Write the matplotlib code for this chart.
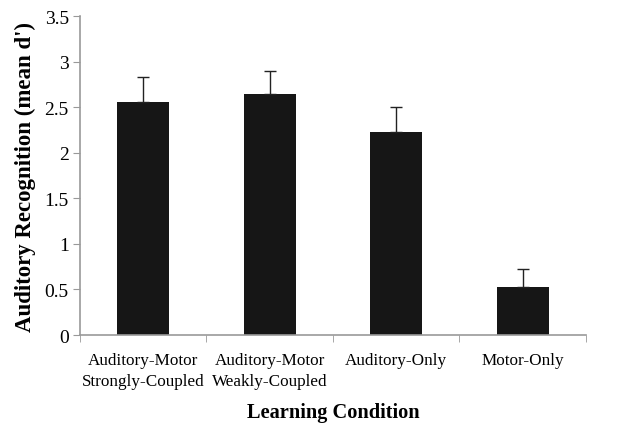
from matplotlib import pyplot as plt
import numpy as np

plt.rcParams['font.family'] = ['Liberation Serif', 'DejaVu Serif']

conditions = ['Auditory-Motor\nStrongly-Coupled', 'Auditory-Motor\nWeakly-Coupled',
              'Auditory-Only', 'Motor-Only']
mean_d = [2.56, 2.65, 2.23, 0.53]
err_up = [0.27, 0.25, 0.27, 0.20]

fig = plt.figure(figsize=(6.39, 4.27), dpi=100)
ax = fig.add_axes([0.125, 0.213, 0.792, 0.747])

x = np.arange(len(conditions))
ax.bar(x, mean_d, width=0.41, color='#161616',
       yerr=[np.zeros(len(err_up)), err_up], capsize=4,
       error_kw=dict(ecolor='#222222', elinewidth=1, capthick=1))

ax.set_xlim(-0.5, len(conditions) - 0.5)
ax.set_ylim(0, 3.5)
ax.set_yticks(np.arange(0, 3.51, 0.5))
ax.set_yticklabels(['0', '0.5', '1', '1.5', '2', '2.5', '3', '3.5'])
ax.set_xticks(x)
ax.set_xticklabels(conditions, fontsize=12.3, linespacing=1.45)
ax.set_xticks(np.arange(-0.5, len(conditions)), minor=True)
ax.tick_params(axis='x', which='major', length=0, pad=12)
ax.tick_params(axis='x', which='minor', length=5, color='#999999', direction='out')
ax.tick_params(axis='y', length=5, color='#999999', labelsize=14, pad=3)

for side in ['top', 'right']:
    ax.spines[side].set_visible(False)
for side in ['left', 'bottom']:
    ax.spines[side].set_color('#999999')
    ax.spines[side].set_linewidth(1.2)

ax.set_ylabel("Auditory Recognition (mean d')", fontsize=16.5, fontweight='bold', labelpad=6)
ax.set_xlabel('Learning Condition', fontsize=14.7, fontweight='bold', labelpad=9)

plt.savefig('out.png', dpi=100)
